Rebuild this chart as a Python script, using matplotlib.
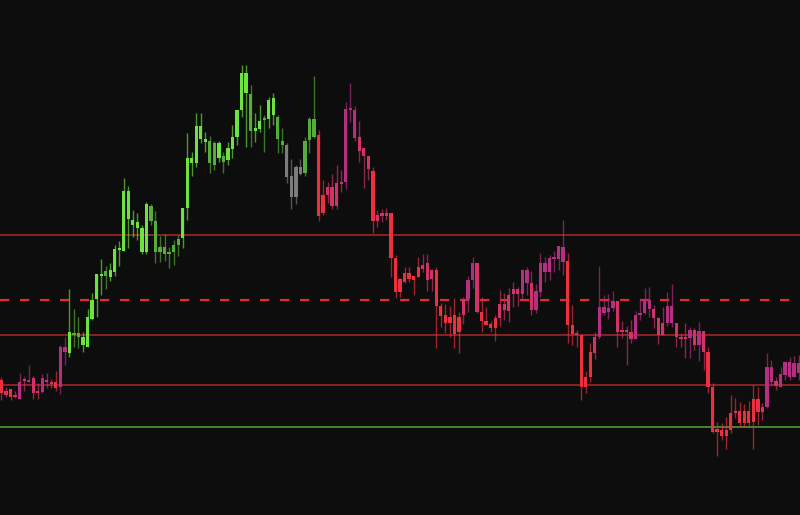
import matplotlib
matplotlib.use('Agg')
import matplotlib.pyplot as plt
import numpy as np

# price data (arbitrary price units, higher = up)
opens = [135, 124, 126, 120, 116, 136, 133, 137, 124, 123, 135, 133, 133, 128, 163,
         162, 180, 178, 170, 168, 196, 216, 239, 239, 238, 243, 265, 264, 296, 290,
         287, 263, 263, 294, 263, 263, 261, 261, 263, 270, 277, 307, 352, 352, 376,
         373, 352, 350, 357, 353, 355, 366, 378, 405, 422, 384, 384, 386, 395, 396,
         400, 376, 370, 370, 339, 348, 348, 342, 375, 378, 380, 320, 328, 328, 332,
         333, 333, 405, 377, 378, 367, 359, 344, 300, 302, 302, 302, 257, 236, 242,
         242, 239, 248, 250, 252, 245, 245, 209, 200, 198, 200, 198, 215, 216, 235,
         252, 203, 194, 191, 197, 211, 211, 220, 226, 226, 221, 232, 232, 205, 223,
         243, 243, 256, 256, 253, 254, 190, 182, 180, 138, 163, 178, 178, 202, 203,
         207, 214, 184, 184, 183, 176, 200, 202, 206, 206, 197, 192, 192, 192, 192,
         178, 177, 177, 185, 170, 184, 163, 128, 86, 85, 85, 102, 104, 104, 104,
         104, 116, 116, 108, 108, 133, 134, 128, 140, 138, 138, 142]
highs = [138, 128, 126, 124, 142, 138, 150, 139, 132, 141, 142, 136, 144, 170, 178,
         226, 206, 198, 183, 206, 222, 241, 256, 249, 252, 270, 274, 337, 329, 305,
         302, 290, 313, 311, 304, 279, 281, 268, 275, 280, 307, 382, 363, 402, 402,
         383, 379, 374, 374, 363, 373, 390, 405, 450, 450, 430, 402, 410, 400, 418,
         422, 400, 387, 372, 356, 350, 356, 378, 398, 439, 385, 335, 333, 341, 350,
         345, 413, 432, 409, 394, 367, 359, 348, 305, 306, 307, 302, 260, 237, 248,
         248, 239, 258, 261, 261, 246, 248, 212, 211, 209, 217, 203, 218, 239, 258,
         252, 218, 208, 194, 200, 225, 222, 227, 233, 228, 246, 248, 244, 231, 262,
         258, 260, 264, 269, 295, 262, 210, 185, 180, 144, 172, 183, 249, 220, 221,
         224, 214, 194, 189, 195, 204, 216, 227, 228, 210, 198, 208, 223, 231, 192,
         182, 192, 188, 187, 193, 184, 168, 132, 93, 92, 98, 120, 117, 113, 111,
         114, 130, 128, 112, 162, 155, 138, 148, 153, 158, 159, 160]
lows = [115, 118, 115, 117, 116, 124, 133, 116, 116, 122, 127, 127, 124, 121, 150,
        158, 168, 167, 163, 168, 195, 198, 220, 226, 234, 239, 249, 264, 267, 278,
        275, 261, 261, 290, 252, 253, 254, 247, 250, 259, 267, 295, 339, 348, 372,
        363, 342, 345, 353, 342, 350, 357, 370, 398, 368, 368, 373, 383, 363, 387,
        390, 362, 362, 332, 306, 311, 340, 339, 362, 377, 294, 300, 312, 306, 306,
        323, 326, 393, 374, 353, 327, 335, 282, 288, 293, 295, 238, 217, 218, 232,
        233, 220, 238, 243, 224, 224, 167, 188, 182, 178, 167, 162, 191, 203, 227,
        202, 183, 190, 183, 174, 189, 195, 193, 208, 209, 215, 220, 200, 202, 218,
        233, 235, 243, 245, 240, 172, 170, 168, 115, 122, 133, 156, 176, 200, 196,
        204, 168, 177, 150, 172, 176, 195, 201, 198, 187, 171, 180, 189, 188, 168,
        168, 157, 157, 165, 154, 145, 122, 82, 59, 75, 66, 82, 97, 88, 88,
        88, 66, 90, 95, 107, 129, 125, 128, 135, 135, 138, 135]
closes = [122, 120, 118, 118, 133, 134, 135, 122, 122, 137, 133, 131, 127, 168, 168,
          183, 182, 182, 178, 198, 215, 241, 241, 244, 245, 266, 267, 324, 324, 295,
          293, 287, 311, 309, 294, 268, 268, 263, 270, 276, 307, 357, 357, 389, 389,
          376, 374, 372, 372, 359, 367, 378, 405, 442, 442, 421, 387, 394, 397, 415,
          417, 398, 374, 338, 318, 318, 341, 374, 396, 396, 299, 302, 320, 309, 309,
          331, 406, 407, 405, 364, 359, 346, 294, 294, 299, 299, 257, 223, 223, 233,
          236, 235, 238, 246, 235, 236, 209, 199, 192, 192, 181, 183, 200, 235, 252,
          203, 194, 190, 187, 187, 197, 205, 204, 221, 221, 245, 245, 205, 224, 252,
          252, 257, 258, 269, 268, 190, 181, 180, 128, 128, 138, 162, 208, 208, 207,
          214, 183, 183, 183, 176, 200, 202, 215, 215, 197, 180, 180, 209, 209, 178,
          176, 176, 185, 170, 184, 163, 128, 83, 83, 79, 79, 85, 102, 92, 92,
          92, 93, 103, 103, 148, 148, 129, 141, 153, 153, 152, 152]

# trend state per candle: G strong up, g weak up, x neutral, R down, P weak down, M rebound
trend_state = ("RPRPMPMPPMPPRMM"
               "GggGGGGGgGGGGGGGGG"
               "ggggggg"
               "GGGGGG"
               "ggGgG"
               "GGGG"
               "gGGgGGgg"
               "xxxx"
               "ggg"
               "RRPPPPMMMPPP"
               "RPPPRRRRRRRPPP"
               "RRRRRRPMMPRRRR"
               "PPPPPMMPMMMMMMM"
               "RRPRRRPMMMMPPPP"
               "MMMMPPPMMPPPMPMP"
               "RRRRRRPRRRRRPMMPMMMMM")

# horizontal levels
resistance_levels = [280, 180, 130]
pivot_level = 215
support_level = 88

state_colors = {
    'G': '#6ee23e',
    'g': '#56ad3a',
    'x': '#7c7c7c',
    'R': '#ec303e',
    'P': '#d23266',
    'M': '#b42f80',
}

bg = '#0d0d0d'
fig = plt.figure(figsize=(8, 5.15), dpi=100, facecolor=bg)
ax = fig.add_axes([0, 0, 1, 1])
ax.set_facecolor(bg)

o = np.array(opens, dtype=float)
h = np.array(highs, dtype=float)
l = np.array(lows, dtype=float)
c = np.array(closes, dtype=float)
x = np.arange(len(o))
cols = [state_colors[s] for s in trend_state]

# levels behind the candles
for lv in resistance_levels:
    ax.axhline(lv, color='#a8282a', lw=1.1, zorder=1)
ax.axhline(pivot_level, color='#e02a2e', lw=1.6, linestyle=(0, (4.2, 4.8)), zorder=1)
ax.axhline(support_level, color='#4ea83a', lw=1.1, zorder=1)

# wicks then bodies
ax.vlines(x, l, h, colors=cols, lw=1.0, alpha=0.65, zorder=2)
bottoms = np.minimum(o, c)
heights = np.maximum(np.abs(c - o), 1.8)
ax.bar(x, heights, bottom=bottoms, width=0.72, color=cols, linewidth=0, zorder=3)

ax.set_xlim(-0.33, 176.3)
ax.set_ylim(0, 515)
ax.axis('off')

fig.savefig('out.png', dpi=100, facecolor=bg)
